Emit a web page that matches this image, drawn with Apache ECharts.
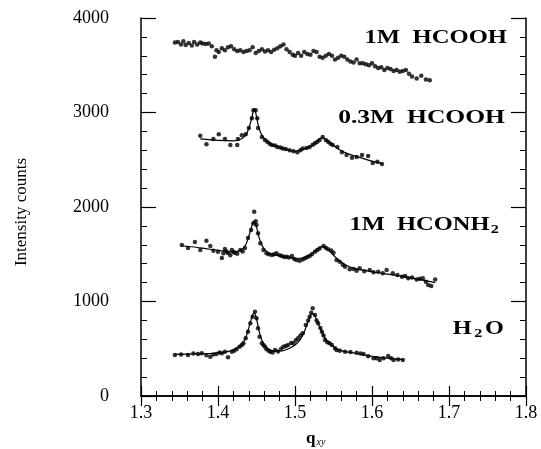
<!DOCTYPE html>
<html>
<head>
<meta charset="utf-8">
<script src="https://cdn.jsdelivr.net/npm/echarts@6/dist/echarts.min.js"></script>
<style>
  html, body { margin: 0; padding: 0; background: #fff; }
  #chart { width: 541px; height: 449px; }
</style>
</head>
<body>
<div id="chart"></div>
<script>
// 1M HCOOH (points only)
const qHcooh1 = [1.344, 1.348, 1.352, 1.355, 1.358, 1.362, 1.366, 1.369, 1.373, 1.377, 1.380, 1.384, 1.388, 1.392, 1.396, 1.398, 1.401, 1.405, 1.409, 1.413, 1.417, 1.421, 1.425, 1.429, 1.433, 1.437, 1.441, 1.445, 1.449, 1.453, 1.457, 1.461, 1.465, 1.469, 1.473, 1.477, 1.481, 1.485, 1.489, 1.493, 1.497, 1.500, 1.504, 1.508, 1.512, 1.516, 1.520, 1.524, 1.528, 1.532, 1.536, 1.540, 1.544, 1.548, 1.552, 1.556, 1.560, 1.564, 1.568, 1.572, 1.576, 1.580, 1.584, 1.588, 1.592, 1.596, 1.600, 1.604, 1.608, 1.612, 1.616, 1.620, 1.624, 1.628, 1.632, 1.636, 1.640, 1.644, 1.648, 1.652, 1.658, 1.664, 1.670, 1.675];
const iHcooh1 = [3740, 3745, 3720, 3755, 3715, 3735, 3710, 3745, 3720, 3740, 3730, 3725, 3730, 3700, 3590, 3660, 3640, 3680, 3660, 3690, 3700, 3670, 3650, 3660, 3640, 3650, 3660, 3690, 3630, 3650, 3670, 3645, 3660, 3640, 3665, 3680, 3700, 3720, 3670, 3640, 3610, 3600, 3630, 3600, 3640, 3620, 3610, 3650, 3640, 3590, 3580, 3600, 3620, 3600, 3560, 3580, 3600, 3590, 3560, 3540, 3530, 3560, 3520, 3520, 3510, 3500, 3520, 3490, 3470, 3480, 3450, 3470, 3460, 3440, 3450, 3430, 3440, 3450, 3410, 3380, 3360, 3390, 3350, 3340];

// 0.3M HCOOH
const qHcooh03 = [1.377, 1.385, 1.394, 1.401, 1.409, 1.416, 1.425, 1.426, 1.431, 1.436, 1.440, 1.444, 1.446, 1.449, 1.451, 1.452, 1.457, 1.461, 1.464, 1.467, 1.470, 1.474, 1.477, 1.481, 1.484, 1.488, 1.493, 1.498, 1.503, 1.507, 1.510, 1.515, 1.519, 1.523, 1.526, 1.529, 1.532, 1.536, 1.540, 1.543, 1.546, 1.549, 1.555, 1.561, 1.567, 1.574, 1.580, 1.587, 1.595, 1.601, 1.607, 1.613];
const iHcooh03 = [2755, 2663, 2720, 2770, 2720, 2655, 2655, 2720, 2760, 2770, 2835, 2940, 3025, 3025, 2940, 2835, 2740, 2710, 2690, 2670, 2655, 2650, 2635, 2630, 2620, 2615, 2600, 2590, 2580, 2600, 2620, 2625, 2635, 2660, 2675, 2690, 2710, 2740, 2710, 2690, 2670, 2655, 2635, 2580, 2550, 2520, 2530, 2550, 2540, 2465, 2480, 2455];
const qFit03 = [1.377, 1.400, 1.420, 1.430, 1.436, 1.440, 1.444, 1.447, 1.450, 1.453, 1.457, 1.463, 1.470, 1.480, 1.490, 1.500, 1.510, 1.520, 1.528, 1.535, 1.542, 1.550, 1.560, 1.570, 1.580, 1.590, 1.600, 1.613];
const fit03 = [2720, 2705, 2700, 2720, 2760, 2830, 2950, 3040, 2960, 2840, 2760, 2700, 2660, 2630, 2605, 2590, 2610, 2640, 2690, 2735, 2700, 2650, 2595, 2560, 2535, 2510, 2485, 2460];

// 1M HCONH2
const qHconh2 = [1.353, 1.361, 1.370, 1.377, 1.385, 1.390, 1.394, 1.400, 1.405, 1.407, 1.409, 1.411, 1.413, 1.416, 1.418, 1.420, 1.422, 1.425, 1.429, 1.432, 1.435, 1.439, 1.443, 1.446, 1.447, 1.449, 1.450, 1.452, 1.455, 1.459, 1.463, 1.466, 1.470, 1.473, 1.476, 1.480, 1.483, 1.486, 1.489, 1.492, 1.496, 1.499, 1.502, 1.506, 1.510, 1.513, 1.516, 1.519, 1.522, 1.526, 1.529, 1.532, 1.537, 1.540, 1.543, 1.547, 1.550, 1.554, 1.558, 1.562, 1.565, 1.571, 1.576, 1.580, 1.584, 1.590, 1.597, 1.602, 1.608, 1.614, 1.619, 1.627, 1.633, 1.639, 1.643, 1.647, 1.652, 1.658, 1.662, 1.666, 1.670, 1.673, 1.677, 1.682];
const iHconh2 = [1598, 1566, 1629, 1545, 1643, 1587, 1537, 1527, 1460, 1510, 1555, 1530, 1513, 1490, 1545, 1525, 1516, 1505, 1545, 1530, 1566, 1672, 1756, 1827, 1950, 1850, 1809, 1721, 1616, 1545, 1510, 1500, 1492, 1500, 1510, 1490, 1481, 1470, 1474, 1465, 1481, 1450, 1439, 1431, 1445, 1457, 1470, 1481, 1500, 1527, 1545, 1562, 1587, 1570, 1552, 1540, 1516, 1439, 1421, 1390, 1367, 1340, 1345, 1326, 1351, 1320, 1333, 1310, 1315, 1300, 1333, 1298, 1280, 1262, 1270, 1245, 1255, 1234, 1240, 1245, 1210, 1174, 1164, 1234];
const qFitNh2 = [1.353, 1.380, 1.400, 1.420, 1.430, 1.436, 1.440, 1.444, 1.447, 1.450, 1.454, 1.458, 1.465, 1.475, 1.490, 1.500, 1.510, 1.520, 1.528, 1.535, 1.542, 1.550, 1.560, 1.570, 1.580, 1.600, 1.620, 1.640, 1.660, 1.682];
const fitNh2 = [1590, 1565, 1540, 1525, 1545, 1600, 1690, 1800, 1850, 1790, 1660, 1580, 1515, 1490, 1470, 1455, 1460, 1495, 1550, 1580, 1555, 1490, 1415, 1370, 1345, 1315, 1290, 1265, 1235, 1200];

// H2O
const qWater = [1.344, 1.352, 1.361, 1.368, 1.374, 1.379, 1.385, 1.390, 1.394, 1.398, 1.402, 1.405, 1.409, 1.413, 1.418, 1.421, 1.424, 1.428, 1.431, 1.433, 1.436, 1.439, 1.442, 1.445, 1.448, 1.450, 1.452, 1.454, 1.457, 1.459, 1.461, 1.463, 1.466, 1.468, 1.471, 1.474, 1.478, 1.482, 1.485, 1.488, 1.491, 1.495, 1.498, 1.501, 1.504, 1.507, 1.510, 1.514, 1.517, 1.519, 1.521, 1.523, 1.526, 1.528, 1.530, 1.533, 1.535, 1.537, 1.539, 1.542, 1.545, 1.548, 1.552, 1.554, 1.558, 1.565, 1.572, 1.580, 1.585, 1.589, 1.595, 1.602, 1.606, 1.610, 1.615, 1.621, 1.625, 1.628, 1.634, 1.640];
const iWater = [434, 440, 434, 450, 444, 452, 430, 416, 440, 444, 460, 452, 469, 409, 469, 480, 494, 522, 540, 557, 610, 680, 769, 839, 892, 822, 716, 627, 557, 540, 522, 494, 480, 469, 460, 487, 470, 500, 522, 530, 540, 560, 557, 590, 610, 640, 663, 751, 800, 839, 880, 928, 857, 800, 769, 720, 680, 640, 592, 570, 557, 540, 504, 487, 480, 469, 465, 458, 450, 444, 420, 399, 400, 381, 400, 423, 400, 381, 385, 381];
const qFitWater = [1.344, 1.370, 1.400, 1.415, 1.425, 1.432, 1.437, 1.441, 1.445, 1.447, 1.450, 1.453, 1.457, 1.462, 1.470, 1.480, 1.490, 1.500, 1.507, 1.513, 1.518, 1.522, 1.525, 1.530, 1.536, 1.542, 1.550, 1.560, 1.580, 1.600, 1.620, 1.640];
const fitWater = [440, 445, 455, 475, 510, 560, 640, 750, 860, 880, 820, 700, 590, 520, 480, 475, 495, 540, 600, 700, 810, 870, 860, 770, 660, 580, 520, 480, 450, 420, 400, 385];

const xTicks = [1.3, 1.4, 1.5, 1.6, 1.7, 1.8];
const yTicks = [0, 1000, 2000, 3000, 4000];

const FONT = 'Liberation Serif';

function pairs(xs, ys) {
  return xs.map((x, i) => [x, ys[i]]);
}

function dots(xs, ys) {
  return {
    type: 'scatter', data: pairs(xs, ys), symbol: 'circle', symbolSize: 4.5,
    itemStyle: { color: '#000' }, silent: true, z: 3
  };
}

function fit(xs, ys) {
  return {
    type: 'line', data: pairs(xs, ys), showSymbol: false, smooth: 0.3,
    lineStyle: { color: '#000', width: 1.2 }, silent: true, z: 2
  };
}

const chart = echarts.init(document.getElementById('chart'), null, { renderer: 'canvas' });

const axisLine = { show: true, lineStyle: { color: '#000', width: 1.5 } };

function xAxis(pos, showLabel) {
  return {
    type: 'value', position: pos, min: xTicks[0], max: xTicks[xTicks.length - 1], interval: 0.1,
    axisLine: axisLine,
    axisTick: { inside: true, length: 10, lineStyle: { color: '#000', width: 1.2 } },
    minorTick: { show: true, splitNumber: 5, length: 5, lineStyle: { color: '#000', width: 1 } },
    splitLine: { show: false },
    axisLabel: {
      show: showLabel, color: '#000', fontFamily: FONT, fontSize: 18, margin: 8,
      formatter: v => v.toFixed(1)
    }
  };
}

function yAxis(pos, showLabel) {
  return {
    type: 'value', position: pos, min: yTicks[0], max: yTicks[yTicks.length - 1], interval: 1000,
    axisLine: axisLine,
    axisTick: { inside: true, length: 15, lineStyle: { color: '#000', width: 1.2 } },
    minorTick: { show: true, splitNumber: 5, length: 6, lineStyle: { color: '#000', width: 1 } },
    splitLine: { show: false },
    axisLabel: {
      show: showLabel, color: '#000', fontFamily: FONT, fontSize: 18, margin: 32,
      formatter: v => String(v)
    }
  };
}

const bold = { fontFamily: FONT, fontSize: 18, fontWeight: 'bold', fill: '#000' };
const sub = { fontFamily: FONT, fontSize: 12, fontWeight: 'bold', fill: '#000' };

// sample labels: right edge x, top y, horizontal stretch
function tag(text, x, y, sx, rich) {
  return {
    type: 'text', x: x, y: y, scaleX: sx, originX: 0, originY: 0,
    style: Object.assign({ text: text, align: 'right', verticalAlign: 'top' }, rich ? { rich: rich } : bold)
  };
}

chart.setOption({
  animation: false,
  backgroundColor: '#fff',
  grid: { left: 141, right: 15, top: 18, bottom: 53 },
  xAxis: [xAxis('bottom', true), xAxis('top', false)],
  yAxis: [yAxis('left', true), yAxis('right', false)],
  graphic: [
    tag('1M  HCOOH', 507, 29, 1.37),
    tag('0.3M  HCOOH', 505, 109, 1.42),
    tag('{a|1M  HCONH}{s|2}', 499, 214, 1.36, { a: bold, s: Object.assign({ padding: [10, 0, 0, 1] }, sub) }),
    tag('{a|H}{s|2}{a|O}', 504, 318, 1.35, { a: bold, s: Object.assign({ padding: [10, 2, 0, 2] }, sub) }),
    {
      type: 'text', x: 22, y: 212, rotation: Math.PI / 2,
      style: { text: 'Intensity counts', fontFamily: FONT, fontSize: 17, fill: '#000', align: 'center', verticalAlign: 'middle' }
    },
    {
      type: 'text', left: 306, top: 430,
      style: {
        text: '{a|q}{s|xy}',
        rich: {
          a: { fontFamily: FONT, fontSize: 17, fontWeight: 'bold', fill: '#000' },
          s: { fontFamily: FONT, fontSize: 10, fontStyle: 'italic', fill: '#000', padding: [8, 0, 0, 1] }
        }
      }
    }
  ],
  series: [
    dots(qHcooh1, iHcooh1),
    dots(qHcooh03, iHcooh03), fit(qFit03, fit03),
    dots(qHconh2, iHconh2), fit(qFitNh2, fitNh2),
    dots(qWater, iWater), fit(qFitWater, fitWater)
  ]
});
</script>
</body>
</html>
